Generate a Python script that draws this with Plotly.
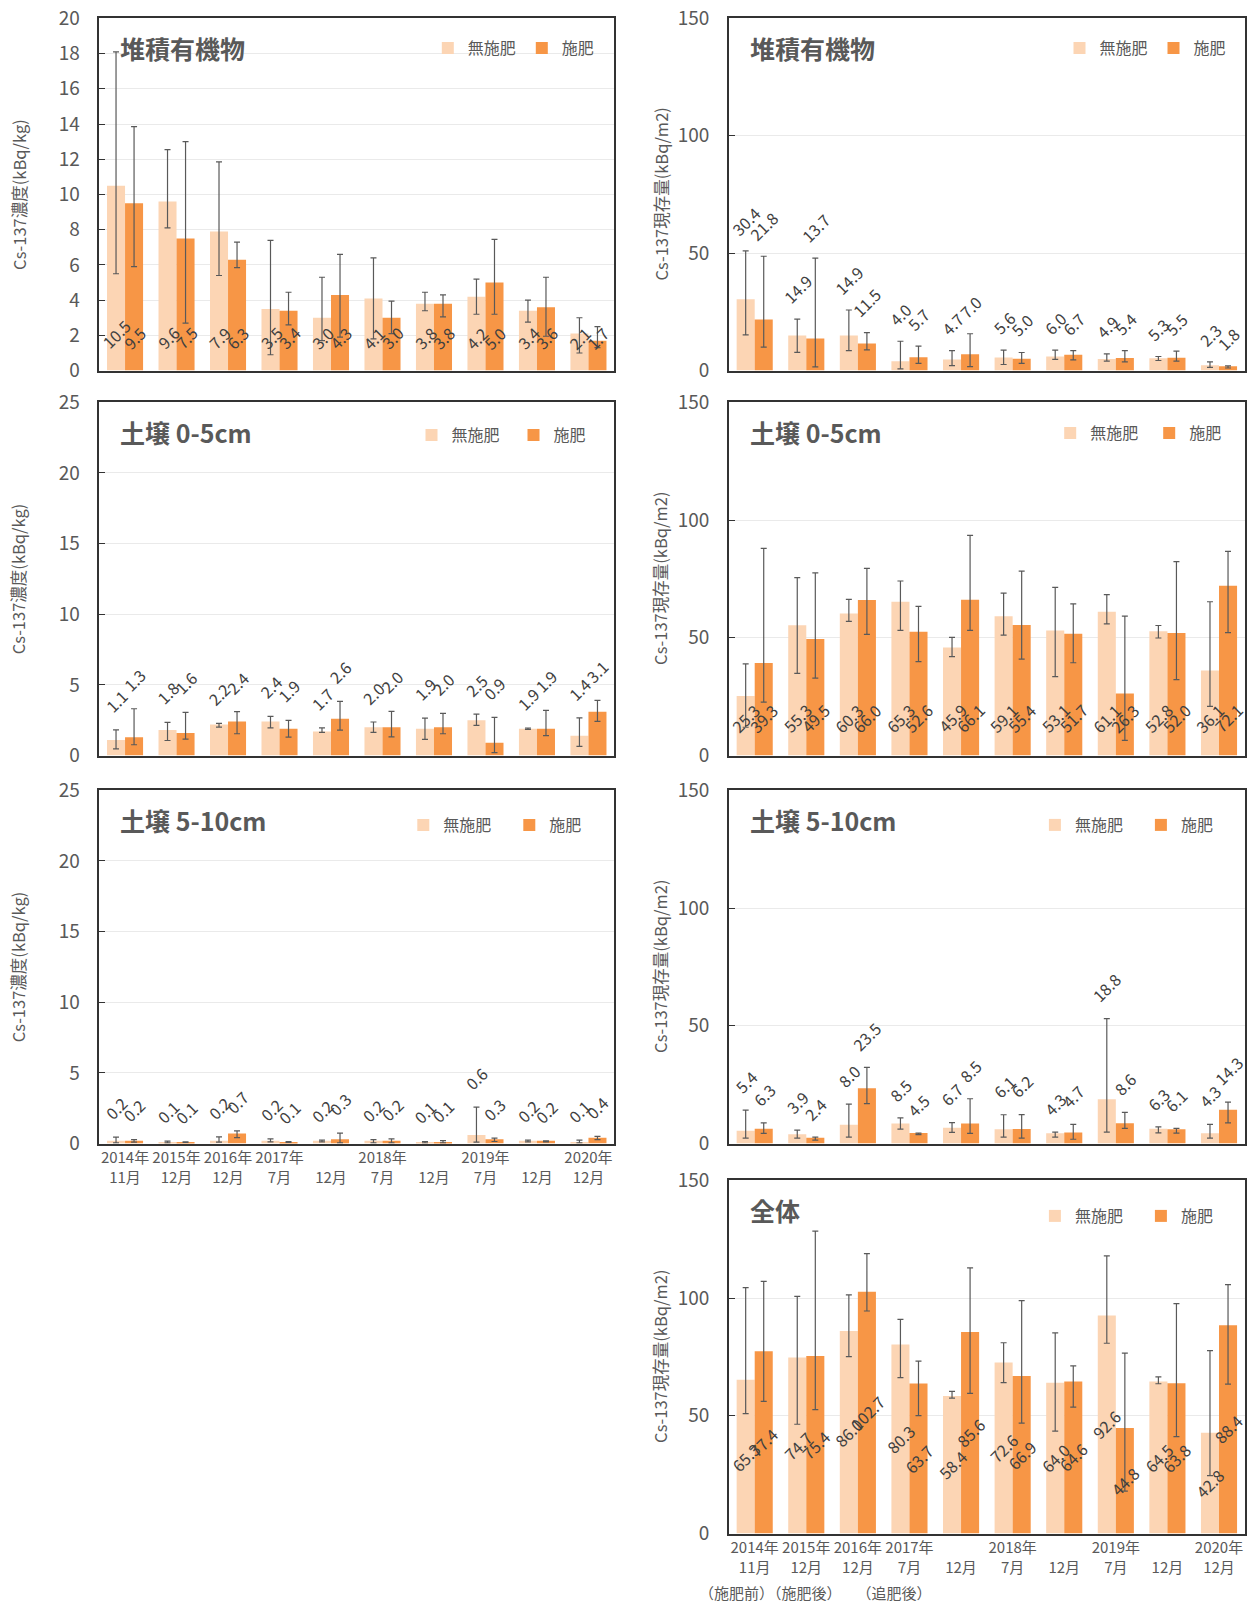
import plotly.graph_objects as go

# ---------------- data ----------------
periods = ["2014年<br>11月", "2015年<br>12月", "2016年<br>12月", "2017年<br>7月", "<br>12月",
           "2018年<br>7月", "<br>12月", "2019年<br>7月", "<br>12月", "2020年<br>12月"]
series_names = ["無施肥", "施肥"]
note_text = "（施肥前）（施肥後）　　（追肥後）"
ytitle_conc = "Cs-137濃度(kBq/kg)"
ytitle_inv = "Cs-137現存量(kBq/m2)"

# 堆積有機物 (kBq/kg)
org_conc_nf = [10.5, 9.6, 7.9, 3.5, 3.0, 4.1, 3.8, 4.2, 3.4, 2.1]
org_conc_f = [9.5, 7.5, 6.3, 3.4, 4.3, 3.0, 3.8, 5.0, 3.6, 1.7]
org_conc_nf_hi = [18.1, 12.55, 11.85, 7.4, 5.3, 6.4, 4.45, 5.2, 4.0, 3.0]
org_conc_nf_lo = [5.5, 8.1, 5.4, 0.9, 1.7, 1.8, 3.4, 3.2, 2.75, 1.0]
org_conc_f_hi = [13.85, 13.0, 7.3, 4.45, 6.6, 3.95, 4.3, 7.45, 5.3, 2.5]
org_conc_f_lo = [5.9, 2.7, 5.85, 2.6, 1.9, 2.1, 3.05, 3.2, 1.95, 1.3]

# 土壌 0-5cm (kBq/kg)
s05_conc_nf = [1.1, 1.8, 2.2, 2.4, 1.7, 2.0, 1.9, 2.5, 1.9, 1.4]
s05_conc_f = [1.3, 1.6, 2.4, 1.9, 2.6, 2.0, 2.0, 0.9, 1.9, 3.1]
s05_conc_nf_hi = [1.82, 2.34, 2.27, 2.77, 1.96, 2.37, 2.65, 2.93, 1.94, 2.67]
s05_conc_nf_lo = [0.47, 1.06, 2.01, 1.96, 1.63, 1.63, 1.14, 2.13, 1.84, 0.64]
s05_conc_f_hi = [3.31, 3.05, 3.10, 2.48, 3.83, 3.12, 2.98, 2.70, 3.19, 3.90]
s05_conc_f_lo = [0.76, 1.16, 1.54, 1.30, 1.80, 1.32, 1.54, 0.21, 1.40, 2.41]

# 土壌 5-10cm (kBq/kg)
s510_conc_nf = [0.2, 0.1, 0.2, 0.2, 0.2, 0.2, 0.1, 0.6, 0.2, 0.1]
s510_conc_f = [0.2, 0.1, 0.7, 0.1, 0.3, 0.2, 0.1, 0.3, 0.2, 0.4]
s510_conc_nf_hi = [0.45, 0.17, 0.47, 0.33, 0.24, 0.28, 0.14, 2.57, 0.24, 0.24]
s510_conc_nf_lo = [0.05, 0.05, 0.10, 0.12, 0.12, 0.05, 0.05, 0.10, 0.12, 0.05]
s510_conc_f_hi = [0.28, 0.12, 0.90, 0.13, 0.73, 0.33, 0.21, 0.38, 0.19, 0.50]
s510_conc_f_lo = [0.10, 0.08, 0.42, 0.08, 0.05, 0.05, 0.05, 0.14, 0.12, 0.28]

# 堆積有機物 (kBq/m2)
org_inv_nf = [30.4, 14.9, 14.9, 4.0, 4.7, 5.6, 6.0, 4.9, 5.3, 2.3]
org_inv_f = [21.8, 13.7, 11.5, 5.7, 7.0, 5.0, 6.7, 5.4, 5.5, 1.8]
org_inv_nf_hi = [51.0, 21.9, 25.8, 12.5, 8.5, 8.7, 8.7, 7.1, 6.0, 3.7]
org_inv_nf_lo = [15.2, 7.8, 8.5, 0.7, 2.1, 2.6, 4.8, 4.0, 4.3, 1.4]
org_inv_f_hi = [48.7, 47.9, 16.2, 10.4, 15.7, 7.7, 8.5, 8.5, 8.3, 2.0]
org_inv_f_lo = [10.0, 1.6, 8.8, 3.1, 1.7, 3.1, 4.6, 3.7, 4.0, 1.1]

# 土壌 0-5cm (kBq/m2)
s05_inv_nf = [25.3, 55.3, 60.3, 65.3, 45.9, 59.1, 53.1, 61.1, 52.8, 36.1]
s05_inv_f = [39.3, 49.5, 66.0, 52.6, 66.1, 55.4, 51.7, 26.3, 52.0, 72.1]
s05_inv_nf_hi = [38.9, 75.5, 66.3, 74.1, 50.2, 69.0, 71.4, 68.3, 55.2, 65.3]
s05_inv_nf_lo = [12.0, 34.9, 57.0, 53.1, 42.0, 51.1, 33.5, 55.9, 49.9, 20.9]
s05_inv_f_hi = [88.0, 77.6, 79.5, 63.3, 93.5, 78.3, 64.4, 59.2, 82.3, 86.7]
s05_inv_f_lo = [22.7, 32.9, 51.4, 39.9, 53.1, 40.9, 39.4, 6.4, 32.2, 52.2]

# 土壌 5-10cm (kBq/m2)
s510_inv_nf = [5.4, 3.9, 8.0, 8.5, 6.7, 6.1, 4.3, 18.8, 6.3, 4.3]
s510_inv_f = [6.3, 2.4, 23.5, 4.5, 8.5, 6.2, 4.7, 8.6, 6.1, 14.3]
s510_inv_nf_hi = [14.2, 5.7, 16.7, 10.9, 8.9, 12.2, 4.8, 53.0, 7.1, 8.1]
s510_inv_nf_lo = [2.3, 2.3, 2.7, 6.1, 4.7, 2.7, 2.7, 4.8, 4.5, 2.3]
s510_inv_f_hi = [8.8, 2.7, 32.3, 4.4, 19.0, 12.3, 8.1, 13.2, 6.4, 17.6]
s510_inv_f_lo = [4.3, 1.4, 16.9, 3.8, 4.3, 2.3, 1.8, 6.4, 4.4, 8.8]

# 全体 (kBq/m2)
tot_inv_nf = [65.3, 74.7, 86.0, 80.3, 58.4, 72.6, 64.0, 92.6, 64.5, 42.8]
tot_inv_f = [77.4, 75.4, 102.7, 63.7, 85.6, 66.9, 64.6, 44.8, 63.8, 88.4]
tot_inv_nf_hi = [104.4, 100.7, 101.3, 90.9, 60.4, 81.0, 85.2, 117.9, 66.5, 77.7]
tot_inv_nf_lo = [50.9, 46.4, 75.1, 66.2, 57.5, 64.1, 43.5, 80.8, 63.6, 24.6]
tot_inv_f_hi = [107.1, 128.4, 118.9, 73.2, 112.8, 98.9, 71.2, 76.6, 97.6, 105.7]
tot_inv_f_lo = [56.1, 52.6, 94.5, 50.1, 59.5, 46.9, 53.7, 18.0, 41.1, 63.4]

# ---------------- style ----------------
W, H = 1252, 1605
FONT = "Noto Sans CJK JP"
C_NF = "#FCD5B4"
C_F = "#F79646"
TXT = "#595959"
LBL = "#404040"
FRAME = "#333333"
GRID = "#EAEAEA"
ERR = "#595959"
BARGAP = 0.30

COLS_X = [(99.3, 614.2), (728.9, 1244.8)]
ROWS_Y = [(18.4, 370.6), (402.3, 755.5), (790.3, 1143.5), (1180.3, 1533.5)]

panels = [
    dict(title="堆積有機物", col=0, row=0, nf=org_conc_nf, f=org_conc_f,
         nf_hi=org_conc_nf_hi, nf_lo=org_conc_nf_lo, f_hi=org_conc_f_hi, f_lo=org_conc_f_lo,
         ymax=20, dtick=2, ytitle=ytitle_conc, mode="base", shift=14,
         leg=(467.8, 90, 48.1), xlabels=False),
    dict(title="土壌 0-5cm", col=0, row=1, nf=s05_conc_nf, f=s05_conc_f,
         nf_hi=s05_conc_nf_hi, nf_lo=s05_conc_nf_lo, f_hi=s05_conc_f_hi, f_lo=s05_conc_f_lo,
         ymax=25, dtick=5, ytitle=ytitle_conc, mode="top", shift=10,
         leg=(451.5, 98, 435.0), xlabels=False),
    dict(title="土壌 5-10cm", col=0, row=2, nf=s510_conc_nf, f=s510_conc_f,
         nf_hi=s510_conc_nf_hi, nf_lo=s510_conc_nf_lo, f_hi=s510_conc_f_hi, f_lo=s510_conc_f_lo,
         ymax=25, dtick=5, ytitle=ytitle_conc, mode="top", shift=10,
         leg=(443.3, 102, 825.0), xlabels=True),
    dict(title="堆積有機物", col=1, row=0, nf=org_inv_nf, f=org_inv_f,
         nf_hi=org_inv_nf_hi, nf_lo=org_inv_nf_lo, f_hi=org_inv_f_hi, f_lo=org_inv_f_lo,
         ymax=150, dtick=50, ytitle=ytitle_inv, mode="top", shift=8,
         leg=(1099.5, 90, 48.1), xlabels=False),
    dict(title="土壌 0-5cm", col=1, row=1, nf=s05_inv_nf, f=s05_inv_f,
         nf_hi=s05_inv_nf_hi, nf_lo=s05_inv_nf_lo, f_hi=s05_inv_f_hi, f_lo=s05_inv_f_lo,
         ymax=150, dtick=50, ytitle=ytitle_inv, mode="base", shift=15,
         leg=(1090.2, 95, 433.0), xlabels=False),
    dict(title="土壌 5-10cm", col=1, row=2, nf=s510_inv_nf, f=s510_inv_f,
         nf_hi=s510_inv_nf_hi, nf_lo=s510_inv_nf_lo, f_hi=s510_inv_f_hi, f_lo=s510_inv_f_lo,
         ymax=150, dtick=50, ytitle=ytitle_inv, mode="top", shift=9,
         leg=(1074.9, 102, 825.0), xlabels=False),
    dict(title="全体", col=1, row=3, nf=tot_inv_nf, f=tot_inv_f,
         nf_hi=tot_inv_nf_hi, nf_lo=tot_inv_nf_lo, f_hi=tot_inv_f_hi, f_lo=tot_inv_f_lo,
         ymax=150, dtick=50, ytitle=ytitle_inv, mode="center", shift=0,
         leg=(1074.9, 102, 1216.0), xlabels=True),
]

fig = go.Figure()
layout = {}
annotations = []
xs = list(range(len(periods)))
half = (1 - BARGAP) / 4

for k, p in enumerate(panels, start=1):
    sfx = "" if k == 1 else str(k)
    xa, ya = "x" + sfx, "y" + sfx
    lg = "legend" + sfx
    x0, x1 = COLS_X[p["col"]]
    yt, yb = ROWS_Y[p["row"]]

    series = [
        (series_names[0], p["nf"], p["nf_hi"], p["nf_lo"], C_NF, -half),
        (series_names[1], p["f"], p["f_hi"], p["f_lo"], C_F, +half),
    ]
    for name, vals, hi, lo, color, off in series:
        fig.add_trace(go.Bar(
            x=xs, y=vals, name=name, marker=dict(color=color, line=dict(width=0)),
            xaxis=xa, yaxis=ya, legend=lg, showlegend=True, hoverinfo="y+name",
            error_y=dict(type="data", symmetric=False,
                         array=[h - v for h, v in zip(hi, vals)],
                         arrayminus=[v - l for v, l in zip(vals, lo)],
                         color=ERR, thickness=1.2, width=3),
        ))
        for i, v in enumerate(vals):
            if p["mode"] == "base":
                y, yanchor, ys = 0, "bottom", p["shift"]
            elif p["mode"] == "top":
                y, yanchor, ys = hi[i], "bottom", p["shift"]
            else:
                y, yanchor, ys = v / 2, "middle", 0
            annotations.append(dict(
                x=i + off, y=y, xref=xa, yref=ya, text=f"{v:.1f}", textangle=-45,
                showarrow=False, xanchor="center", yanchor=yanchor, yshift=ys,
                font=dict(family=FONT, size=16, color=LBL)))

    layout["xaxis" + sfx] = dict(
        domain=[x0 / W, x1 / W], anchor=ya, range=[-0.5, len(periods) - 0.5],
        tickmode="array", tickvals=xs, ticktext=periods, showticklabels=p["xlabels"],
        ticks="", showgrid=False, zeroline=False, automargin=False,
        showline=True, mirror=True, linecolor=FRAME, linewidth=1.5,
        tickfont=dict(family=FONT, size=15, color=TXT), fixedrange=True)
    layout["yaxis" + sfx] = dict(
        domain=[1 - yb / H, 1 - yt / H], anchor=xa, range=[0, p["ymax"]], dtick=p["dtick"],
        showline=True, mirror=True, linecolor=FRAME, linewidth=1.5, automargin=False,
        ticks="inside", ticklen=6, tickcolor=FRAME, tickwidth=1,
        showgrid=True, gridcolor=GRID, gridwidth=1, zeroline=False,
        tickfont=dict(family=FONT, size=19, color=TXT), ticklabelstandoff=14, fixedrange=True)

    tx, dist, yc = p["leg"]
    layout[lg] = dict(
        orientation="h", x=(tx - 40) / W, xanchor="left", y=1 - yc / H, yanchor="middle",
        font=dict(family=FONT, size=16, color=TXT), bgcolor="rgba(0,0,0,0)",
        entrywidth=dist - 41, entrywidthmode="pixels", itemwidth=30, traceorder="normal")

    # panel title
    annotations.append(dict(
        x=0, y=1, xref=xa + " domain", yref=ya + " domain", xanchor="left", yanchor="middle",
        xshift=19, yshift=-30, text=f"<b>{p['title']}</b>", showarrow=False,
        font=dict(family=FONT, size=25, color=TXT)))
    # y-axis title
    annotations.append(dict(
        x=(18.4 if p["col"] == 0 else 660.0) / W, y=1 - (yt + yb) / 2 / H,
        xref="paper", yref="paper", xanchor="center", yanchor="middle", textangle=-90,
        text=p["ytitle"], showarrow=False,
        font=dict(family=FONT, size=16.5, color=TXT)))

annotations.append(dict(
    x=697 / W, y=1 - 1592 / H, xref="paper", yref="paper", xanchor="left", yanchor="middle",
    text=note_text, showarrow=False, font=dict(family=FONT, size=15, color=TXT)))

fig.update_layout(
    width=W, height=H, margin=dict(l=0, r=0, t=0, b=0, pad=0, autoexpand=False),
    paper_bgcolor="white", plot_bgcolor="white",
    barmode="group", bargap=BARGAP, bargroupgap=0,
    font=dict(family=FONT, color=TXT),
    annotations=annotations,
    **layout)

fig.write_html("out.html", include_plotlyjs=True, config={"displayModeBar": False},
               post_script="document.body.style.margin='0';document.body.style.overflow='hidden';")
